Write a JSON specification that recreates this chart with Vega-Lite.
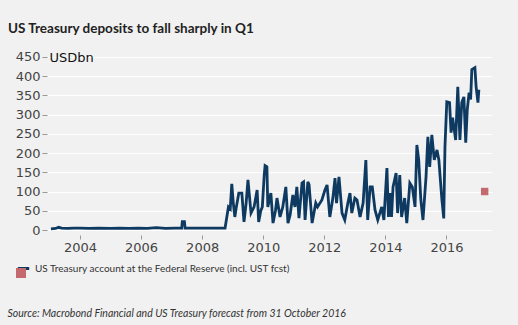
{
  "$schema": "https://vega.github.io/schema/vega-lite/v6.json",
  "width": 445,
  "height": 177,
  "autosize": "none",
  "padding": {"left": 47, "top": 53, "right": 26, "bottom": 95},
  "background": "#f1f1f1",
  "title": {
    "text": "US Treasury deposits to fall sharply in Q1",
    "anchor": "start",
    "frame": "group",
    "dx": -39,
    "offset": 15,
    "font": "Lato",
    "fontSize": 13.5,
    "fontWeight": "bold",
    "color": "#222222"
  },
  "config": {
    "view": {"stroke": null},
    "axis": {"labelFont": "DejaVu Sans", "labelFontSize": 13, "labelColor": "#444444", "tickColor": "#999999", "domain": false}
  },
  "datasets": {
    "series": [
      {"year": 2003.05, "v": 3}, {"year": 2003.2, "v": 4}, {"year": 2003.3, "v": 7}, {"year": 2003.4, "v": 5},
      {"year": 2003.6, "v": 4}, {"year": 2003.8, "v": 5}, {"year": 2004.0, "v": 5}, {"year": 2004.3, "v": 4},
      {"year": 2004.6, "v": 5}, {"year": 2005.0, "v": 4}, {"year": 2005.3, "v": 5}, {"year": 2005.6, "v": 4},
      {"year": 2005.9, "v": 5}, {"year": 2006.2, "v": 4}, {"year": 2006.5, "v": 6}, {"year": 2006.8, "v": 4},
      {"year": 2007.1, "v": 5}, {"year": 2007.33, "v": 5}, {"year": 2007.35, "v": 22}, {"year": 2007.42, "v": 22},
      {"year": 2007.44, "v": 5}, {"year": 2007.7, "v": 5}, {"year": 2008.0, "v": 5}, {"year": 2008.3, "v": 5},
      {"year": 2008.6, "v": 5}, {"year": 2008.75, "v": 5},
      {"year": 2008.8, "v": 30}, {"year": 2008.86, "v": 60}, {"year": 2008.92, "v": 55}, {"year": 2008.97, "v": 120},
      {"year": 2009.02, "v": 70}, {"year": 2009.07, "v": 34}, {"year": 2009.12, "v": 60}, {"year": 2009.2, "v": 96},
      {"year": 2009.3, "v": 96}, {"year": 2009.37, "v": 21}, {"year": 2009.44, "v": 70}, {"year": 2009.5, "v": 130},
      {"year": 2009.6, "v": 44}, {"year": 2009.7, "v": 60}, {"year": 2009.8, "v": 104}, {"year": 2009.85, "v": 21},
      {"year": 2009.92, "v": 50}, {"year": 2009.97, "v": 60}, {"year": 2010.03, "v": 140}, {"year": 2010.06, "v": 167},
      {"year": 2010.12, "v": 164}, {"year": 2010.15, "v": 60}, {"year": 2010.25, "v": 96}, {"year": 2010.32, "v": 18},
      {"year": 2010.4, "v": 50}, {"year": 2010.45, "v": 83}, {"year": 2010.55, "v": 34}, {"year": 2010.64, "v": 60},
      {"year": 2010.74, "v": 112}, {"year": 2010.81, "v": 18}, {"year": 2010.88, "v": 39}, {"year": 2010.97, "v": 91},
      {"year": 2011.04, "v": 60}, {"year": 2011.1, "v": 112}, {"year": 2011.17, "v": 31}, {"year": 2011.27, "v": 122},
      {"year": 2011.32, "v": 125}, {"year": 2011.37, "v": 26}, {"year": 2011.46, "v": 125}, {"year": 2011.5, "v": 118},
      {"year": 2011.6, "v": 18}, {"year": 2011.72, "v": 70}, {"year": 2011.78, "v": 60}, {"year": 2011.92, "v": 78},
      {"year": 2012.02, "v": 104}, {"year": 2012.09, "v": 117}, {"year": 2012.18, "v": 34}, {"year": 2012.28, "v": 83},
      {"year": 2012.35, "v": 135}, {"year": 2012.4, "v": 70}, {"year": 2012.48, "v": 138}, {"year": 2012.58, "v": 44},
      {"year": 2012.67, "v": 26}, {"year": 2012.77, "v": 70}, {"year": 2012.84, "v": 96}, {"year": 2012.9, "v": 44},
      {"year": 2013.0, "v": 83}, {"year": 2013.07, "v": 78}, {"year": 2013.17, "v": 34}, {"year": 2013.27, "v": 70},
      {"year": 2013.36, "v": 182}, {"year": 2013.42, "v": 26}, {"year": 2013.5, "v": 112}, {"year": 2013.57, "v": 112},
      {"year": 2013.66, "v": 52}, {"year": 2013.75, "v": 26}, {"year": 2013.88, "v": 60}, {"year": 2013.95, "v": 26},
      {"year": 2014.05, "v": 161}, {"year": 2014.1, "v": 34}, {"year": 2014.15, "v": 96}, {"year": 2014.2, "v": 34},
      {"year": 2014.25, "v": 112}, {"year": 2014.35, "v": 148}, {"year": 2014.4, "v": 44}, {"year": 2014.47, "v": 143},
      {"year": 2014.53, "v": 34}, {"year": 2014.63, "v": 83}, {"year": 2014.7, "v": 18}, {"year": 2014.8, "v": 122},
      {"year": 2014.88, "v": 112}, {"year": 2014.97, "v": 60}, {"year": 2015.03, "v": 221}, {"year": 2015.09, "v": 182},
      {"year": 2015.16, "v": 78}, {"year": 2015.23, "v": 26}, {"year": 2015.33, "v": 138}, {"year": 2015.39, "v": 242},
      {"year": 2015.45, "v": 164}, {"year": 2015.52, "v": 247}, {"year": 2015.6, "v": 182}, {"year": 2015.69, "v": 208},
      {"year": 2015.75, "v": 182}, {"year": 2015.85, "v": 78}, {"year": 2015.91, "v": 30}, {"year": 2015.95, "v": 216},
      {"year": 2016.01, "v": 333}, {"year": 2016.1, "v": 331}, {"year": 2016.15, "v": 253}, {"year": 2016.2, "v": 292},
      {"year": 2016.3, "v": 234}, {"year": 2016.37, "v": 372}, {"year": 2016.44, "v": 234}, {"year": 2016.5, "v": 331},
      {"year": 2016.57, "v": 346}, {"year": 2016.63, "v": 227}, {"year": 2016.68, "v": 312}, {"year": 2016.74, "v": 357},
      {"year": 2016.79, "v": 339}, {"year": 2016.83, "v": 417}, {"year": 2016.93, "v": 422}, {"year": 2016.97, "v": 372},
      {"year": 2017.03, "v": 331}, {"year": 2017.06, "v": 365}
    ],
    "forecast": [{"year": 2017.25, "v": 100}]
  },
  "encoding": {
    "x": {
      "field": "year", "type": "quantitative",
      "scale": {"domain": [2002.92, 2017.49], "nice": false, "zero": false},
      "axis": {
        "values": [2004, 2006, 2008, 2010, 2012, 2014, 2016],
        "format": "d", "grid": false, "offset": 5, "tickSize": 4, "labelPadding": 2, "labelOverlap": false,
        "title": "Source: Macrobond Financial and US Treasury forecast from 31 October 2016",
        "titleFont": "Lato", "titleFontSize": 10.5, "titleFontStyle": "italic", "titleFontWeight": "normal",
        "titleColor": "#333333", "titleAnchor": "start", "titleAlign": "left", "titleBaseline": "middle",
        "titleX": -40, "titleY": 78
      }
    },
    "y": {
      "field": "v", "type": "quantitative",
      "scale": {"domain": [0, 460], "nice": false},
      "axis": {
        "values": [0, 50, 100, 150, 200, 250, 300, 350, 400, 450],
        "labelOverlap": false,
        "grid": true, "gridColor": "#ffffff", "gridWidth": 1.2, "tickSize": 5, "labelPadding": 2,
        "title": "USDbn", "titleAngle": 0, "titleAlign": "left", "titleBaseline": "middle",
        "titleX": 2, "titleY": 4, "titleFont": "DejaVu Sans", "titleFontSize": 13, "titleFontWeight": "normal",
        "titleColor": "#111111"
      }
    }
  },
  "layer": [
    {
      "data": {"name": "series"},
      "mark": {"type": "line", "strokeWidth": 2.8, "strokeJoin": "miter"},
      "encoding": {
        "stroke": {
          "datum": "US Treasury account at the Federal Reserve (incl. UST fcst)",
          "scale": {"range": ["#0e3a62"]},
          "legend": {
            "title": null, "orient": "none", "legendX": -31, "legendY": 208, "padding": 0,
            "symbolType": "stroke", "symbolStrokeColor": "#0e3a62",
            "symbolStrokeWidth": 3, "symbolSize": 130, "labelLimit": 0,
            "labelFont": "Lato", "labelFontSize": 10, "labelColor": "#333333", "labelOffset": 4
          }
        }
      }
    },
    {
      "data": {"name": "forecast"},
      "mark": {"type": "square", "size": 55, "opacity": 1},
      "encoding": {
        "fill": {
          "datum": "UST fcst",
          "scale": {"range": ["#c46a6e"]},
          "legend": {
            "title": null, "orient": "none", "legendX": -31, "legendY": 215, "padding": 0,
            "symbolType": "square", "symbolSize": 100, "labelExpr": "''", "symbolStrokeWidth": 0
          }
        }
      }
    }
  ]
}
